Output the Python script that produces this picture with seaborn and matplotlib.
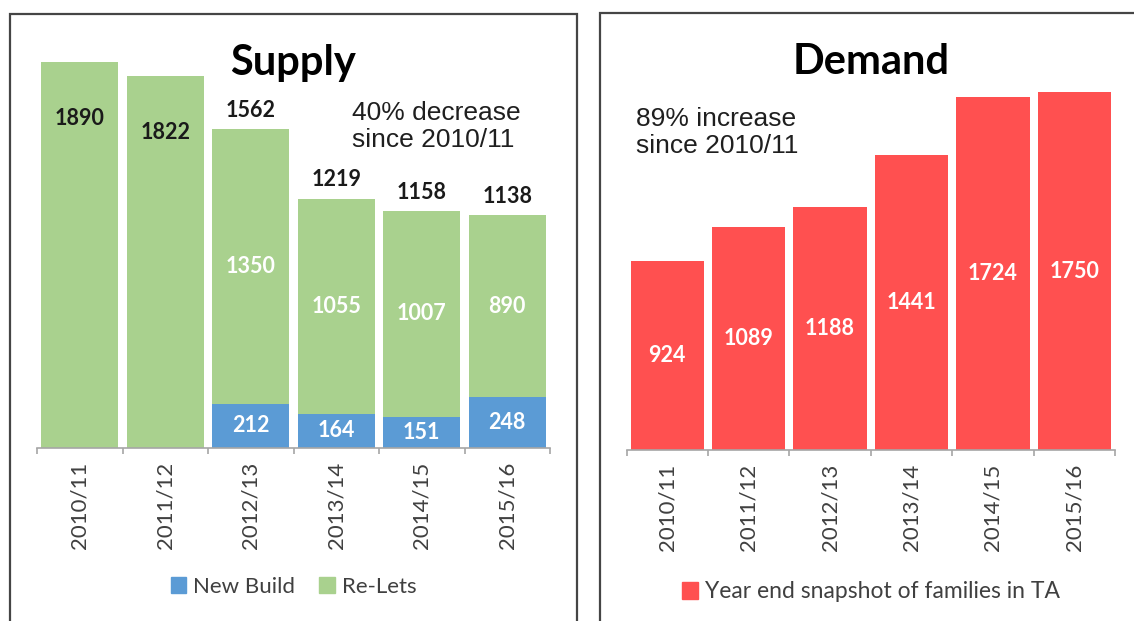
import matplotlib.pyplot as plt
import matplotlib.patches as mpatches
import numpy as np
import pandas as pd
import seaborn as sns

# values
years = ["2010/11", "2011/12", "2012/13", "2013/14", "2014/15", "2015/16"]
new_build = [0, 0, 212, 164, 151, 248]
re_lets = [1890, 1822, 1350, 1055, 1007, 890]
families_in_ta = [924, 1089, 1188, 1441, 1724, 1750]

GREEN = "#A9D18E"
BLUE = "#5B9BD5"
RED = "#FF5050"
GREY_TXT = "#404040"
AXIS_GREY = "#A6A6A6"

sns.set_theme(style="white")
plt.rcParams["font.family"] = ["Lato", "DejaVu Sans"]

W, H = 1134, 621
fig = plt.figure(figsize=(W / 100, H / 100), dpi=100)
fig.patch.set_facecolor("white")


def axes_px(x0, x1, y_base, y_top):
    return fig.add_axes([x0 / W, 1 - y_base / H, (x1 - x0) / W, (y_base - y_top) / H])


# panel frames
fig.add_artist(mpatches.Rectangle((10 / W, -0.1), (577 - 10) / W, 1.1 - 14 / H,
                                  transform=fig.transFigure, fill=False,
                                  ec="#454545", lw=1.6))
fig.add_artist(mpatches.Rectangle((600 / W, -0.1), 0.5, 1.1 - 13 / H,
                                  transform=fig.transFigure, fill=False,
                                  ec="#454545", lw=1.6))

ax1 = axes_px(37, 550, 447.5, 39.5)
ax2 = axes_px(626.5, 1115, 450, 41)

df = pd.DataFrame({"year": years, "new_build": new_build, "re_lets": re_lets})
df["total"] = df["new_build"] + df["re_lets"]
dd = pd.DataFrame({"year": years, "families": families_in_ta})

sns.barplot(data=df, x="year", y="total", color=GREEN, saturation=1, width=0.9,
            linewidth=0, errorbar=None, ax=ax1)
sns.barplot(data=df, x="year", y="new_build", color=BLUE, saturation=1, width=0.9,
            linewidth=0, errorbar=None, ax=ax1)
sns.barplot(data=dd, x="year", y="families", color=RED, saturation=1, width=0.9,
            linewidth=0, errorbar=None, ax=ax2)

for ax in (ax1, ax2):
    ax.set_ylim(0, 2000)
    ax.set_xlim(-0.5, 5.5)
    ax.set_xlabel("")
    ax.set_ylabel("")
    ax.set_yticks([])
    for s in ("left", "top", "right"):
        ax.spines[s].set_visible(False)
    ax.spines["bottom"].set_color(AXIS_GREY)
    ax.spines["bottom"].set_linewidth(1.2)
    ax.set_xticks(range(len(years)))
    ax.set_xticklabels(years, rotation=90, fontsize=16, color=GREY_TXT)
    ax.set_xticks(np.arange(-0.5, len(years), 1), minor=True)
    ax.tick_params(axis="x", which="major", length=0, pad=10)
    ax.tick_params(axis="x", which="minor", bottom=True, length=4, width=1.2,
                   color=AXIS_GREY, direction="out")
    ax.patch.set_alpha(0)

# supply labels
for i, (nb, rl) in enumerate(zip(new_build, re_lets)):
    tot = nb + rl
    if nb > 0:
        ax1.text(i, nb / 2, str(nb), ha="center", va="center", color="white",
                 fontsize=15.5, fontweight="bold")
        ax1.text(i, nb + rl / 2, str(rl), ha="center", va="center", color="white",
                 fontsize=15.5, fontweight="bold")
    if tot > 1700:
        ax1.annotate(str(tot), (i, tot), xytext=(0, -41), textcoords="offset points",
                     ha="center", va="center", color="#1a1a1a", fontsize=15.5,
                     fontweight="bold")
    else:
        ax1.annotate(str(tot), (i, tot), xytext=(0, 6), textcoords="offset points",
                     ha="center", va="bottom", color="#1a1a1a", fontsize=15.5,
                     fontweight="bold")

# demand labels
for i, v in enumerate(families_in_ta):
    ax2.text(i, v / 2, str(v), ha="center", va="center", color="white",
             fontsize=15.5, fontweight="bold")

ax1.text(0.5, (447.5 - 75) / 408, "Supply", transform=ax1.transAxes, ha="center",
         va="baseline", fontsize=30, fontweight="bold", color="black")
ax2.text(0.5, (450 - 74) / 409, "Demand", transform=ax2.transAxes, ha="center",
         va="baseline", fontsize=30, fontweight="bold", color="black")

fig.text(352 / W, 1 - 147 / H, "40% decrease\nsince 2010/11", ha="left", va="baseline",
         fontsize=19, family="Liberation Sans", color="#1f1f1f", linespacing=1.17)
fig.text(636 / W, 1 - 153 / H, "89% increase\nsince 2010/11", ha="left", va="baseline",
         fontsize=19, family="Liberation Sans", color="#1f1f1f", linespacing=1.17)

h1 = [mpatches.Patch(color=BLUE, label="New Build"),
      mpatches.Patch(color=GREEN, label="Re-Lets")]
ax1.legend(handles=h1, loc="center", bbox_to_anchor=(0.5, (447.5 - 587) / 408), ncol=2,
           frameon=False, fontsize=16, handlelength=0.7, handleheight=0.7,
           handletextpad=0.3, columnspacing=1.1, labelcolor=GREY_TXT)
h2 = [mpatches.Patch(color=RED, label="Year end snapshot of families in TA")]
ax2.legend(handles=h2, loc="center", bbox_to_anchor=(0.5, (450 - 592) / 409), ncol=1,
           frameon=False, fontsize=16.5, handlelength=0.7, handleheight=0.7,
           handletextpad=0.3, labelcolor=GREY_TXT)

fig.savefig("out.png", dpi=100)
